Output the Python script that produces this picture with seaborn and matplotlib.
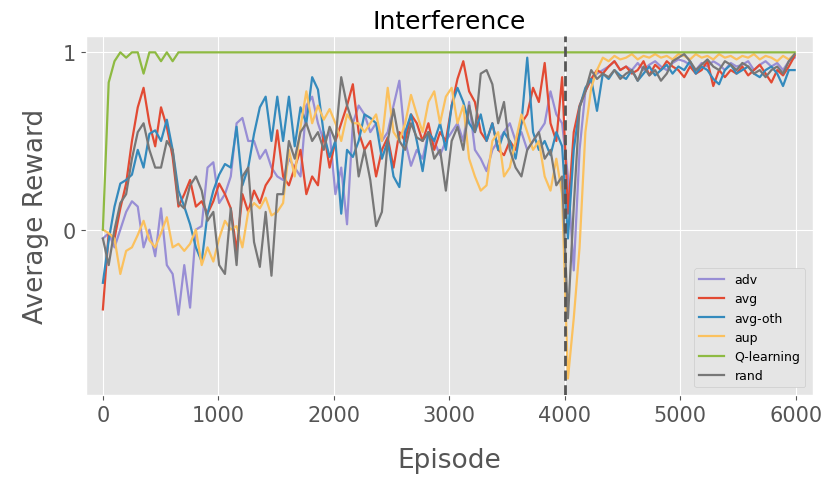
import numpy as np
import pandas as pd
import matplotlib
matplotlib.use("Agg")
import matplotlib.pyplot as plt
import seaborn as sns

plt.style.use("ggplot")

methods = ["adv", "avg", "avg-oth", "aup", "Q-learning", "rand"]
colors = ["#988ED5", "#E24A33", "#348ABD", "#FBC15E", "#8EBA42", "#777777"]

episodes = np.linspace(0, 5990, 120)

adv = [
    -0.05, -0.02, -0.10, 0.00, 0.10, 0.16, 0.13, -0.10, 0.00, -0.15,
    0.12, -0.20, -0.25, -0.48, -0.20, -0.44, 0.00, 0.02, 0.35, 0.38,
    0.15, 0.20, 0.30, 0.60, 0.63, 0.50, 0.50, 0.40, 0.45, 0.35,
    0.30, 0.28, 0.40, 0.35, 0.30, 0.70, 0.75, 0.60, 0.50, 0.55,
    0.20, 0.35, 0.03, 0.60, 0.70, 0.65, 0.55, 0.60, 0.50, 0.55,
    0.70, 0.84, 0.50, 0.36, 0.45, 0.40, 0.55, 0.50, 0.42, 0.50,
    0.55, 0.60, 0.50, 0.72, 0.45, 0.40, 0.33, 0.45, 0.50, 0.55,
    0.60, 0.50, 0.55, 0.45, 0.50, 0.55, 0.60, 0.78, 0.65, 0.60,
    0.30, -0.23, 0.45, 0.78, 0.85, 0.88, 0.90, 0.92, 0.95, 0.90,
    0.92, 0.90, 0.94, 0.90, 0.93, 0.95, 0.92, 0.90, 0.94, 0.96,
    0.95, 0.93, 0.90, 0.94, 0.92, 0.95, 0.93, 0.90, 0.94, 0.92,
    0.93, 0.95, 0.90, 0.93, 0.95, 0.92, 0.94, 0.90, 0.95, 0.97,
]

avg = [
    -0.45, -0.02, -0.05, 0.12, 0.26, 0.50, 0.69, 0.80, 0.60, 0.47,
    0.69, 0.58, 0.41, 0.13, 0.20, 0.28, 0.13, 0.16, 0.09, 0.16,
    0.26, 0.20, 0.12, -0.12, 0.20, 0.10, 0.22, 0.15, 0.25, 0.30,
    0.56, 0.30, 0.25, 0.35, 0.45, 0.20, 0.30, 0.25, 0.55, 0.35,
    0.50, 0.60, 0.70, 0.82, 0.55, 0.45, 0.50, 0.30, 0.45, 0.52,
    0.35, 0.55, 0.50, 0.65, 0.60, 0.50, 0.60, 0.45, 0.55, 0.50,
    0.70, 0.85, 0.95, 0.78, 0.72, 0.55, 0.50, 0.60, 0.45, 0.42,
    0.50, 0.45, 0.60, 0.65, 0.80, 0.72, 0.94, 0.60, 0.50, 0.86,
    0.09, 0.55, 0.70, 0.78, 0.85, 0.90, 0.88, 0.92, 0.95, 0.90,
    0.92, 0.88, 0.90, 0.95, 0.87, 0.93, 0.90, 0.95, 0.92, 0.90,
    0.86, 0.92, 0.88, 0.90, 0.95, 0.81, 0.90, 0.86, 0.90, 0.88,
    0.92, 0.87, 0.90, 0.93, 0.88, 0.83, 0.90, 0.87, 0.92, 0.98,
]

avg_oth = [
    -0.30, -0.06, 0.13, 0.26, 0.28, 0.31, 0.45, 0.35, 0.54, 0.56,
    0.50, 0.62, 0.45, 0.22, 0.13, 0.03, -0.10, -0.18, 0.09, 0.22,
    0.31, 0.37, 0.35, 0.58, 0.25, 0.35, 0.54, 0.69, 0.75, 0.50,
    0.75, 0.50, 0.75, 0.47, 0.69, 0.60, 0.86, 0.79, 0.54, 0.41,
    0.50, 0.09, 0.45, 0.41, 0.50, 0.65, 0.63, 0.60, 0.40, 0.50,
    0.30, 0.24, 0.55, 0.65, 0.50, 0.33, 0.55, 0.50, 0.60, 0.45,
    0.70, 0.80, 0.72, 0.60, 0.55, 0.65, 0.50, 0.60, 0.45, 0.55,
    0.50, 0.40, 0.60, 0.97, 0.55, 0.45, 0.50, 0.42, 0.55, 0.47,
    -0.05, 0.45, 0.69, 0.80, 0.85, 0.67, 0.88, 0.85, 0.90, 0.87,
    0.85, 0.90, 0.84, 0.88, 0.92, 0.87, 0.90, 0.93, 0.88, 0.92,
    0.90, 0.95, 0.88, 0.92, 0.90, 0.85, 0.82, 0.90, 0.93, 0.88,
    0.90, 0.92, 0.88, 0.86, 0.90, 0.92, 0.88, 0.81, 0.90, 0.90,
]

aup = [
    0.00, -0.02, -0.05, -0.25, -0.12, -0.10, -0.03, 0.05, -0.06, -0.10,
    -0.02, 0.07, -0.10, -0.08, -0.12, -0.08, 0.00, -0.20, -0.10, -0.18,
    -0.05, 0.05, 0.00, 0.02, -0.10, 0.10, 0.15, 0.12, 0.18, 0.08,
    0.10, 0.15, 0.45, 0.30, 0.58, 0.78, 0.60, 0.70, 0.62, 0.68,
    0.60, 0.50, 0.65, 0.60, 0.60, 0.55, 0.60, 0.65, 0.50, 0.80,
    0.55, 0.50, 0.60, 0.76, 0.65, 0.55, 0.72, 0.78, 0.60, 0.75,
    0.80, 0.60, 0.70, 0.40, 0.30, 0.22, 0.25, 0.50, 0.55, 0.30,
    0.35, 0.50, 0.65, 0.55, 0.45, 0.50, 0.30, 0.22, 0.40, 0.20,
    -0.84, -0.50, -0.10, 0.55, 0.80, 0.90, 0.97, 0.95, 0.98, 0.96,
    0.97, 0.99, 0.96, 0.98, 0.97, 0.99, 0.97, 0.98, 0.96, 0.99,
    0.98, 0.96, 0.99, 0.97, 0.98, 0.96, 0.99, 0.97, 0.98, 0.96,
    0.98, 0.97, 0.99, 0.96, 0.98, 0.97, 0.95, 0.98, 0.96, 0.99,
]

q_learning = [
    0.00, 0.83, 0.95, 1.00, 0.97, 1.00, 1.00, 0.88, 1.00, 1.00,
    0.95, 1.00, 0.95, 1.00, 1.00, 1.00, 1.00, 1.00, 1.00, 1.00,
] + [1.00] * 100

rand = [
    -0.05, -0.20, 0.00, 0.15, 0.20, 0.40, 0.55, 0.60, 0.45, 0.35,
    0.35, 0.50, 0.45, 0.15, 0.12, 0.25, 0.30, 0.22, 0.05, 0.10,
    -0.20, -0.25, 0.12, -0.20, 0.30, 0.35, -0.07, -0.21, 0.10, -0.26,
    0.20, 0.20, 0.50, 0.40, 0.55, 0.60, 0.50, 0.55, 0.45, 0.58,
    0.50, 0.86, 0.70, 0.60, 0.30, 0.45, 0.28, 0.02, 0.10, 0.50,
    0.68, 0.50, 0.45, 0.60, 0.52, 0.50, 0.55, 0.40, 0.45, 0.22,
    0.50, 0.58, 0.45, 0.70, 0.55, 0.88, 0.90, 0.82, 0.60, 0.72,
    0.45, 0.35, 0.30, 0.45, 0.50, 0.55, 0.40, 0.45, 0.25, 0.30,
    -0.50, 0.13, 0.69, 0.78, 0.90, 0.85, 0.88, 0.86, 0.90, 0.85,
    0.88, 0.90, 0.84, 0.92, 0.87, 0.90, 0.84, 0.88, 0.95, 0.97,
    0.99, 0.95, 0.90, 0.93, 0.96, 0.92, 0.90, 0.95, 0.93, 0.90,
    0.94, 0.92, 0.88, 0.90, 0.86, 0.90, 0.92, 0.88, 0.95, 0.99,
]

series = {"adv": adv, "avg": avg, "avg-oth": avg_oth, "aup": aup,
          "Q-learning": q_learning, "rand": rand}

rows = []
for m in methods:
    for e, v in zip(episodes, series[m]):
        rows.append((m, e, v))
df = pd.DataFrame(rows, columns=["method", "Episode", "Average Reward"])

fig = plt.figure(figsize=(8.26, 4.81), dpi=100)
ax = fig.add_axes([0.104, 0.177, 0.880, 0.746])

sns.lineplot(data=df, x="Episode", y="Average Reward", hue="method",
             hue_order=methods, palette=dict(zip(methods, colors)),
             estimator=None, linewidth=1.6, ax=ax)

ax.axvline(4000, color="#555555", linestyle="--", linewidth=2, zorder=5)

ax.set_xlim(-147, 6147)
ax.set_xticks([0, 1000, 2000, 3000, 4000, 5000, 6000])
ax.set_yticks([0, 1])
ax.tick_params(axis="both", labelsize=15, colors="#555555")
ax.set_title("Interference", fontsize=18, color="black")
ax.set_xlabel("Episode", fontsize=19, color="#555555", labelpad=16)
ax.set_ylabel("Average Reward", fontsize=19, color="#555555", labelpad=10)

handles, labels = ax.get_legend_handles_labels()
ax.legend(handles, labels, loc="lower right", fontsize=9, framealpha=1.0,
          borderaxespad=0.6)

fig.savefig("out.png", dpi=100)
